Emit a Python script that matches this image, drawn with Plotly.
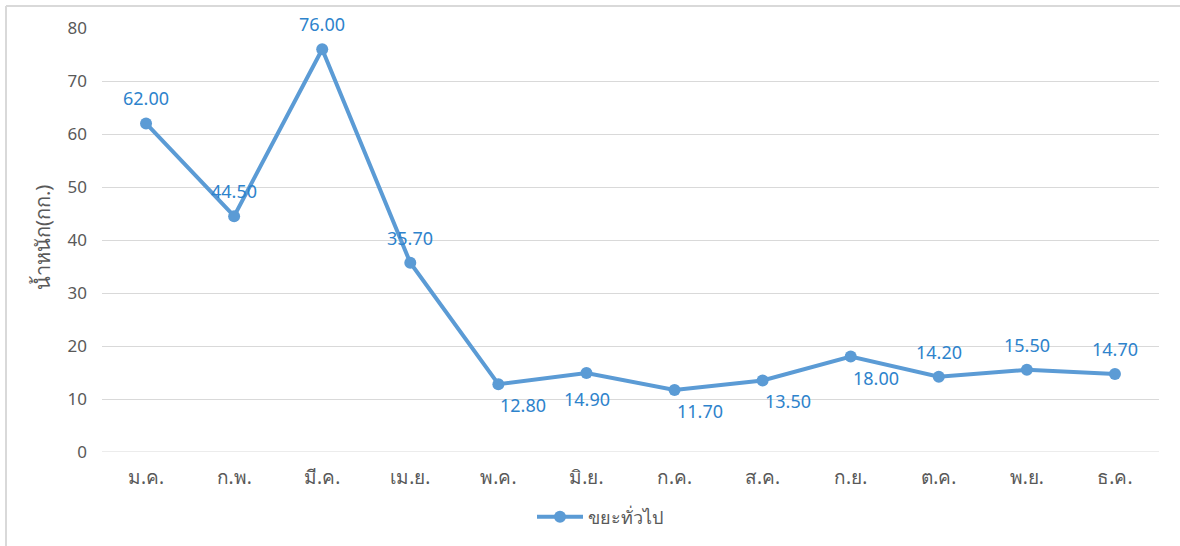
import plotly.graph_objects as go

months = ["ม.ค.", "ก.พ.", "มี.ค.", "เม.ย.", "พ.ค.", "มิ.ย.", "ก.ค.", "ส.ค.", "ก.ย.", "ต.ค.", "พ.ย.", "ธ.ค."]
values = [62.00, 44.50, 76.00, 35.70, 12.80, 14.90, 11.70, 13.50, 18.00, 14.20, 15.50, 14.70]
label_pos = ["above", "above", "above", "above", "below_right", "below",
             "below_right", "below_right", "below_right", "above", "above", "above"]
series_name = "ขยะทั่วไป"
y_title = "น้ำหนัก(กก.)"
y_ticks = [0, 10, 20, 30, 40, 50, 60, 70, 80]

FONT = "'Noto Sans', 'Open Sans', sans-serif"
LABEL_SHIFT = {"above": (0, 25), "below": (1, -26), "below_right": (25, -21)}

PL, PR, PT, PB = 102, 1159, 28, 452  # plot area in pixels
W, H = 1180, 546
pw, ph = PR - PL, PB - PT


def px_x(px):
    return (px - PL) / pw


def px_y(py):
    return (PB - py) / ph


fig = go.Figure()
fig.add_trace(go.Scatter(
    x=months, y=values, name=series_name,
    mode="lines+markers",
    line=dict(color="#5B9BD5", width=4),
    marker=dict(color="#5B9BD5", size=12),
    cliponaxis=False,
))

annotations = []
for m, v, p in zip(months, values, label_pos):
    dx, dy = LABEL_SHIFT[p]
    annotations.append(dict(
        x=m, y=v, xref="x", yref="y", text=f"{v:.2f}", showarrow=False,
        xshift=dx, yshift=dy, xanchor="center", yanchor="middle",
        font=dict(color="#2E83CC", size=18, family=FONT),
    ))
annotations.append(dict(
    text=y_title, textangle=-90, xref="paper", yref="paper",
    x=px_x(42), y=px_y(237), xanchor="center", yanchor="middle",
    showarrow=False, font=dict(size=20, color="#595959", family=FONT),
))

fig.update_layout(
    width=W, height=H,
    margin=dict(l=PL, r=W - PR, t=PT, b=H - PB, autoexpand=False),
    paper_bgcolor="white", plot_bgcolor="white",
    font=dict(family=FONT, color="#595959", size=17),
    showlegend=True,
    legend=dict(orientation="h", x=px_x(600), xanchor="center", y=px_y(517), yanchor="middle",
                itemwidth=46, font=dict(size=18, color="#595959")),
    xaxis=dict(range=[-0.5, 11.5], showgrid=False, showline=False, zeroline=False, ticks="",
               automargin=False, tickfont=dict(size=19, color="#595959"), ticklabelstandoff=12),
    yaxis=dict(range=[0, 80], tickvals=y_ticks, showgrid=True, gridcolor="#D9D9D9", gridwidth=1,
               zeroline=False, showline=False, ticks="", ticklabelstandoff=14, automargin=False,
               tickfont=dict(size=17, color="#595959")),
    shapes=[
        dict(type="line", xref="paper", yref="paper", x0=px_x(6), x1=px_x(1200), y0=px_y(6), y1=px_y(6),
             line=dict(color="#D9D9D9", width=2)),
        dict(type="line", xref="paper", yref="paper", x0=px_x(6), x1=px_x(6), y0=px_y(6), y1=px_y(600),
             line=dict(color="#D9D9D9", width=2)),
        dict(type="line", xref="paper", yref="y", x0=0, x1=1, y0=0, y1=0,
             line=dict(color="#D9D9D9", width=1), layer="below"),
    ],
    annotations=annotations,
)

fig.write_html("out.html", config={"displayModeBar": False},
               post_script="document.body.style.margin='0';")
